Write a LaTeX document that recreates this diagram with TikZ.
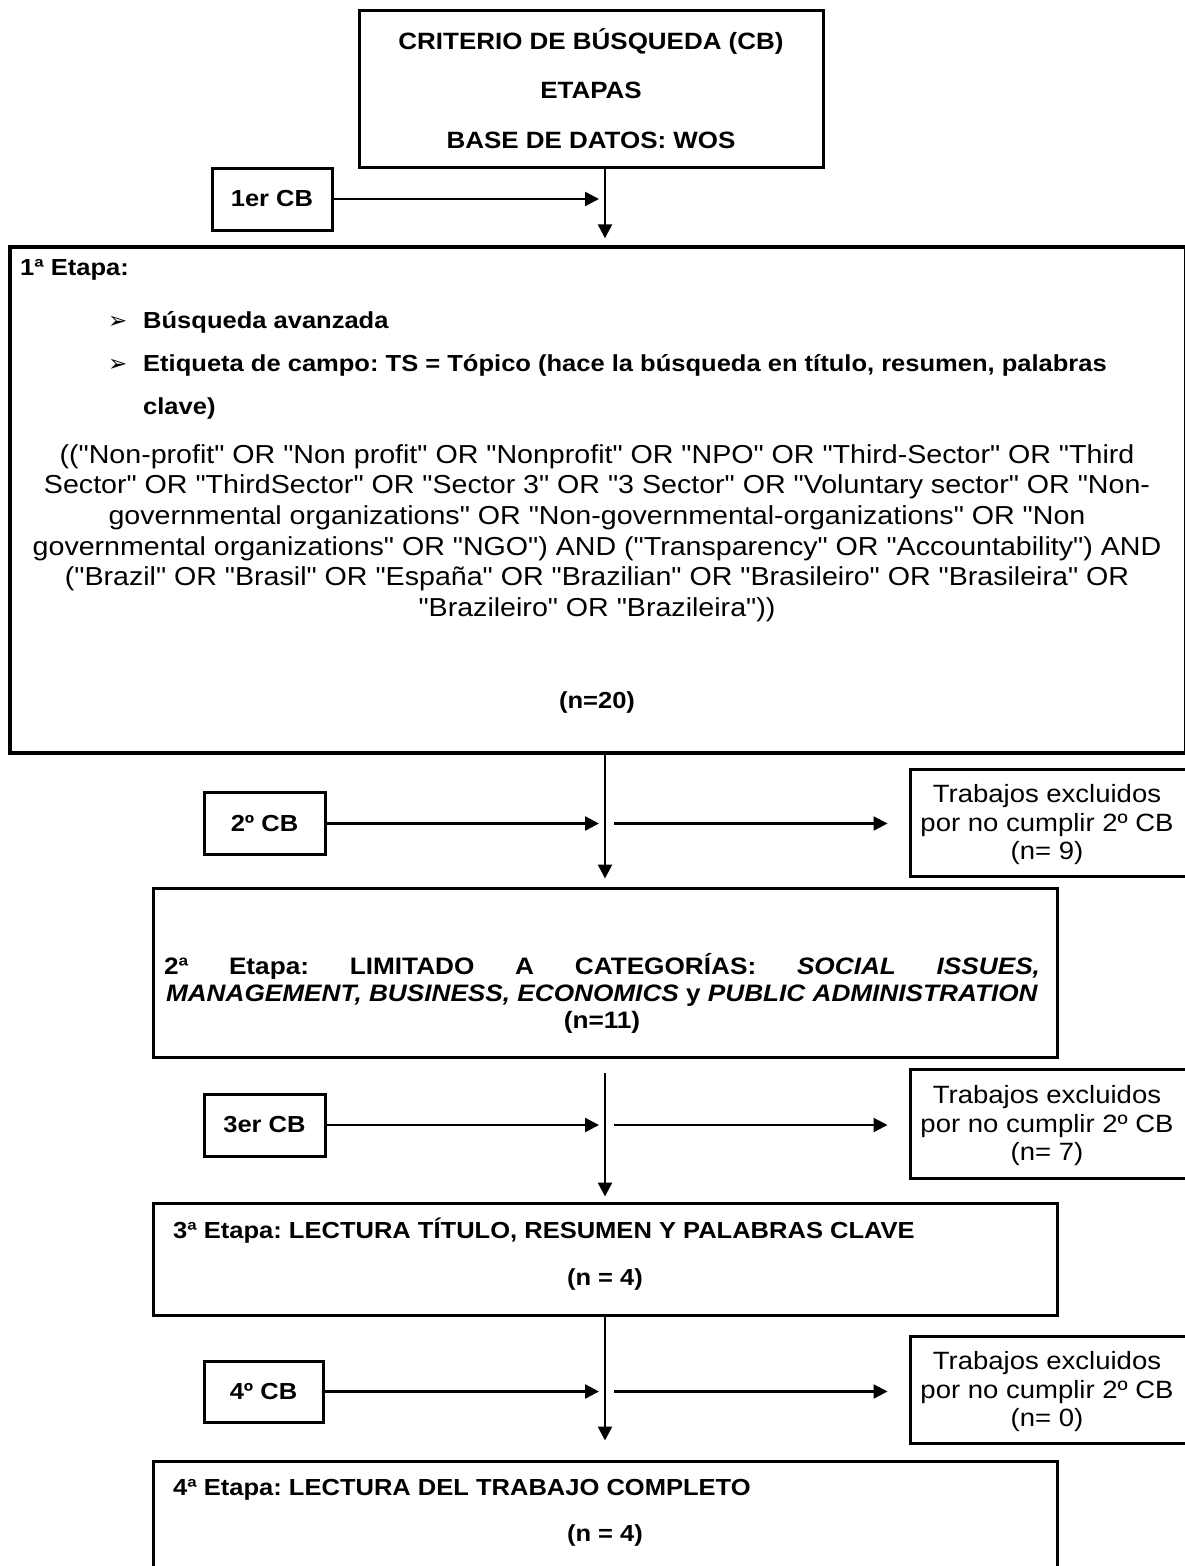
\documentclass[tikz,border=0pt]{standalone}
\usepackage{fontspec}
\setmainfont[FakeStretch=1.1, Ligatures=TeXOff]{Liberation Sans}
\newfontfamily\dingfont{DejaVu Sans}
\usetikzlibrary{arrows.meta}
\frenchspacing

\begin{document}
\begin{tikzpicture}[x=1pt,y=-1pt,
  frame/.style={draw, line width=3pt, inner sep=0pt},
  conn/.style={line width=2.4pt},
  arr/.style={conn, -{Triangle[length=14pt,width=14pt]}},
  boldtxt/.style={inner sep=0pt, font=\fontsize{23.2}{27}\selectfont\bfseries},
  regtxt/.style={inner sep=0pt, align=center, font=\fontsize{25}{28.5}\selectfont},
  querytxt/.style={inner sep=0pt, align=center, font=\fontsize{26}{30.6}\selectfont},
  bullet/.style={inner sep=0pt, anchor=base west, font=\dingfont\fontsize{23}{23}\selectfont},
  cbbox/.style={frame, boldtxt, minimum width=121pt, minimum height=62pt},
  exbox/.style={frame, minimum width=276pt, minimum height=107pt},
  stagebox/.style={frame, minimum width=904pt},
]
\useasboundingbox (0,0) rectangle (1184,1566);
\coordinate (sp) at (605,0);

% heading
\node[frame, boldtxt, align=center, font=\fontsize{23.6}{49.5}\selectfont\bfseries,
      minimum width=464pt, minimum height=157pt] (title) at (591,88.5)
  {CRITERIO DE BÚSQUEDA (CB)\\ETAPAS\\BASE DE DATOS: WOS};

% first criterion and first stage
\node[cbbox, minimum width=120pt] (cb1) at (272,199) {1er CB};
\node[frame, line width=3.4pt, minimum width=1176pt, minimum height=506pt] (etapa1) at (598,500) {};
\draw[arr, shorten >=6pt] (cb1.east) -- (cb1.east -| sp);
\draw[arr, shorten >=7pt] (title.south -| sp) -- (etapa1.north -| sp);

\node[boldtxt, anchor=base west] (e1head) at (20,275) {1ª Etapa:};
\node[bullet] (bul1) at (108,328) {➢};
\node[boldtxt, anchor=base west] (e1a) at (143,328) {Búsqueda avanzada};
\node[bullet] (bul2) at (108,371) {➢};
\node[boldtxt, anchor=base west] (e1b) at (143,371) {Etiqueta de campo: TS = Tópico (hace la búsqueda en título, resumen, palabras};
\node[boldtxt, anchor=base west] (e1c) at (143,414) {clave)};

\node[querytxt] (query) at (597,533)
  {(("Non-profit" OR "Non profit" OR "Nonprofit" OR "NPO" OR "Third-Sector" OR "Third\\
   Sector" OR "ThirdSector" OR "Sector 3" OR "3 Sector" OR "Voluntary sector" OR "Non-\\
   governmental organizations" OR "Non-governmental-organizations" OR "Non\\
   governmental organizations" OR "NGO") AND ("Transparency" OR "Accountability") AND\\
   ("Brazil" OR "Brasil" OR "España" OR "Brazilian" OR "Brasileiro" OR "Brasileira" OR\\
   "Brazileiro" OR "Brazileira"))};
\node[boldtxt, anchor=base] (n20) at (597,708) {(n=20)};

% second criterion and second stage
\node[cbbox] (cb2) at (264.5,823.5) {2º CB};
\node[exbox] (ex1) at (1048,822.5) {};
\node[regtxt] (ex1t) at (1047,825) {Trabajos excluidos\\por no cumplir 2º CB\\(n= 9)};
\node[stagebox, minimum height=169pt] (etapa2) at (605,972.5) {};
\draw[arr, shorten >=6pt] (cb2.east) -- (cb2.east -| sp);
\draw[arr, shorten >=21pt] ([xshift=9pt]cb2.east -| sp) -- (cb2.east -| ex1.west);
\draw[arr, shorten >=8pt] (etapa1.south -| sp) -- (etapa2.north -| sp);
\node[boldtxt, align=center, font=\fontsize{23.8}{27}\selectfont\bfseries] (e2txt) at (602,993)
  {\makebox[876pt][s]{2ª Etapa: LIMITADO A CATEGORÍAS: \textit{SOCIAL ISSUES,}}\\
   \makebox[872pt][s]{\textit{MANAGEMENT, BUSINESS, ECONOMICS} y \textit{PUBLIC ADMINISTRATION}}\hspace*{4pt}\\
   (n=11)};

% third criterion and third stage
\coordinate (top3) at (605,1073);
\node[cbbox] (cb3) at (264.5,1125) {3er CB};
\node[exbox, minimum height=109pt] (ex2) at (1048,1123.5) {};
\node[regtxt] (ex2t) at (1047,1126) {Trabajos excluidos\\por no cumplir 2º CB\\(n= 7)};
\node[stagebox, minimum height=112pt] (etapa3) at (605,1259) {};
\draw[arr, shorten >=6pt] (cb3.east) -- (cb3.east -| sp);
\draw[arr, shorten >=21pt] ([xshift=9pt]cb3.east -| sp) -- (cb3.east -| ex2.west);
\draw[arr, shorten >=5pt] (top3) -- (etapa3.north -| top3);
\node[boldtxt, anchor=base west] (e3a) at (173,1238) {3ª Etapa: LECTURA TÍTULO, RESUMEN Y PALABRAS CLAVE};
\node[boldtxt, anchor=base] (e3b) at (605,1285) {(n = 4)};

% fourth criterion and fourth stage
\node[cbbox, minimum width=119pt, minimum height=61pt] (cb4) at (263.5,1391.5) {4º CB};
\node[exbox] (ex3) at (1048,1389.5) {};
\node[regtxt] (ex3t) at (1047,1392) {Trabajos excluidos\\por no cumplir 2º CB\\(n= 0)};
\node[stagebox, minimum height=159pt] (etapa4) at (605,1540.5) {};
\draw[arr, shorten >=6pt] (cb4.east) -- (cb4.east -| sp);
\draw[arr, shorten >=21pt] ([xshift=9pt]cb4.east -| sp) -- (cb4.east -| ex3.west);
\draw[arr, shorten >=19pt] (etapa3.south -| sp) -- (etapa4.north -| sp);
\node[boldtxt, anchor=base west] (e4a) at (173,1495) {4ª Etapa: LECTURA DEL TRABAJO COMPLETO};
\node[boldtxt, anchor=base] (e4b) at (605,1541) {(n = 4)};
\end{tikzpicture}
\end{document}
